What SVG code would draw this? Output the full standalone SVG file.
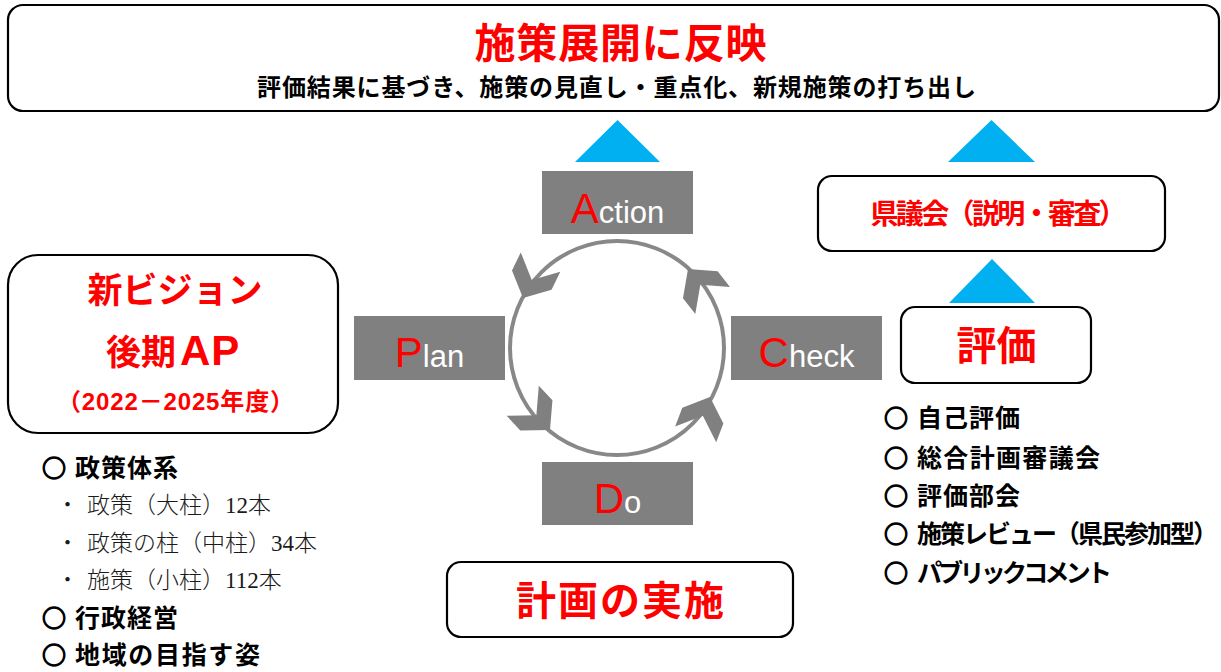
<svg xmlns="http://www.w3.org/2000/svg" width="1221" height="672" viewBox="0 0 1221 672">
<defs>
<style>
.box{fill:#fff;stroke:#000;stroke-width:2.2}
.pd{fill:#808080}
.jp{font-family:"Liberation Sans","Noto Sans CJK JP",sans-serif;font-weight:700}
.red{fill:#ff0000}
.pdca{font-family:"Liberation Sans",sans-serif}
.cap{fill:#ff0000;font-size:42px}
.low{fill:#ffffff;font-size:31px}
.tri{fill:#00b0f0}
.ring{fill:none;stroke:#888888;stroke-width:4}
.head{fill:#808080}
.lst{font-family:"Liberation Sans","Noto Sans CJK JP",sans-serif;font-weight:700;font-size:25px;fill:#000}
.mk{font-family:"Noto Sans CJK JP",sans-serif;font-weight:700;font-size:24px;fill:#000;stroke:#000;stroke-width:1.3}
.sub{font-family:"Liberation Serif","Noto Sans CJK JP",serif;font-size:23px;fill:#1a1a1a;font-weight:300}
</style>
<polygon id="chev" points="0,0 -20,22 -40,22 -20,0 -40,-22 -20,-22"/>
</defs>
<rect width="1221" height="672" fill="#fff"/>

<g id="node-reflect">
<rect class="box" x="8" y="5" width="1211" height="106" rx="15"/>
<text class="jp red" x="620.5" y="57.5" font-size="41" text-anchor="middle" textLength="292">施策展開に反映</text>
<text class="jp" x="616.5" y="96" font-size="24" text-anchor="middle" textLength="719" fill="#000">評価結果に基づき、施策の見直し・重点化、新規施策の打ち出し</text>
</g>

<g id="node-action">
<rect class="pd" x="542" y="171" width="151" height="63"/>
<text class="pdca" x="617.5" y="223" text-anchor="middle"><tspan class="cap">A</tspan><tspan class="low">ction</tspan></text>
</g>

<g id="node-plan">
<rect class="pd" x="354" y="316" width="151" height="64"/>
<text class="pdca" x="429.5" y="367" text-anchor="middle"><tspan class="cap">P</tspan><tspan class="low">lan</tspan></text>
</g>

<g id="node-check">
<rect class="pd" x="731" y="316" width="151" height="64"/>
<text class="pdca" x="806.5" y="367" text-anchor="middle"><tspan class="cap">C</tspan><tspan class="low">heck</tspan></text>
</g>

<g id="node-do">
<rect class="pd" x="542" y="462" width="151" height="63"/>
<text class="pdca" x="617.5" y="513" text-anchor="middle"><tspan class="cap">D</tspan><tspan class="low">o</tspan></text>
</g>

<g id="node-vision">
<rect class="box" x="8" y="255" width="330" height="178" rx="30"/>
<text class="jp red" x="175" y="303" font-size="35" text-anchor="middle">新ビジョン</text>
<text class="jp red" x="106" y="365"><tspan font-size="35">後期</tspan><tspan font-size="42" dx="4" letter-spacing="1">AP</tspan></text>
<text class="jp red" x="175.5" y="410" font-size="24" text-anchor="middle" textLength="237">（2022－2025年度）</text>
</g>

<g id="node-vision-list">
<text class="mk" x="42" y="476.5">○</text>
<text class="lst" x="75" y="476.5" textLength="103">政策体系</text>
<text class="sub" y="513"><tspan x="56">・</tspan><tspan x="87">政策（大柱）12本</tspan></text>
<text class="sub" y="551"><tspan x="56">・</tspan><tspan x="87">政策の柱（中柱）34本</tspan></text>
<text class="sub" y="588"><tspan x="56">・</tspan><tspan x="87">施策（小柱）112本</tspan></text>
<text class="mk" x="42" y="626.5">○</text>
<text class="lst" x="75" y="626.5" textLength="103">行政経営</text>
<text class="mk" x="42" y="664">○</text>
<text class="lst" x="75" y="664" textLength="185">地域の目指す姿</text>
</g>

<g id="node-council">
<rect class="box" x="818" y="176" width="347" height="75" rx="14"/>
<text class="jp red" x="998.5" y="224" font-size="28" text-anchor="middle" textLength="256">県議会（説明・審査）</text>
</g>

<g id="node-evaluation">
<rect class="box" x="901" y="307" width="190" height="76" rx="14"/>
<text class="jp red" x="996.5" y="360" font-size="40" text-anchor="middle">評価</text>
</g>

<g id="node-evaluation-list">
<text class="mk" x="884" y="426.5">○</text>
<text class="lst" x="917" y="426.5" textLength="103">自己評価</text>
<text class="mk" x="884" y="466.5">○</text>
<text class="lst" x="917" y="466.5" textLength="183">総合計画審議会</text>
<text class="mk" x="884" y="505">○</text>
<text class="lst" x="917" y="505" textLength="103">評価部会</text>
<text class="mk" x="884" y="542.5">○</text>
<text class="lst" x="917" y="542.5" textLength="301">施策レビュー（県民参加型）</text>
<text class="mk" x="884" y="581.5">○</text>
<text class="lst" x="917" y="581.5" textLength="195">パブリックコメント</text>
</g>

<g id="node-implementation">
<rect class="box" x="447" y="562" width="346" height="75" rx="14"/>
<text class="jp red" x="620" y="615" font-size="40" text-anchor="middle" textLength="208">計画の実施</text>
</g>

<g id="connectors">
<polygon class="tri" points="575,162 660,162 617.5,120"/>
<polygon class="tri" points="948,162 1035,162 991.5,120"/>
<polygon class="tri" points="949,303 1035,303 992,259"/>
<circle class="ring" cx="617" cy="348" r="107"/>
<use href="#chev" class="head" transform="translate(523,298) rotate(116)"/>
<use href="#chev" class="head" transform="translate(550,430) rotate(47)"/>
<use href="#chev" class="head" transform="translate(710,397) rotate(-69)"/>
<use href="#chev" class="head" transform="translate(688,269) rotate(232)"/>
</g>
</svg>
